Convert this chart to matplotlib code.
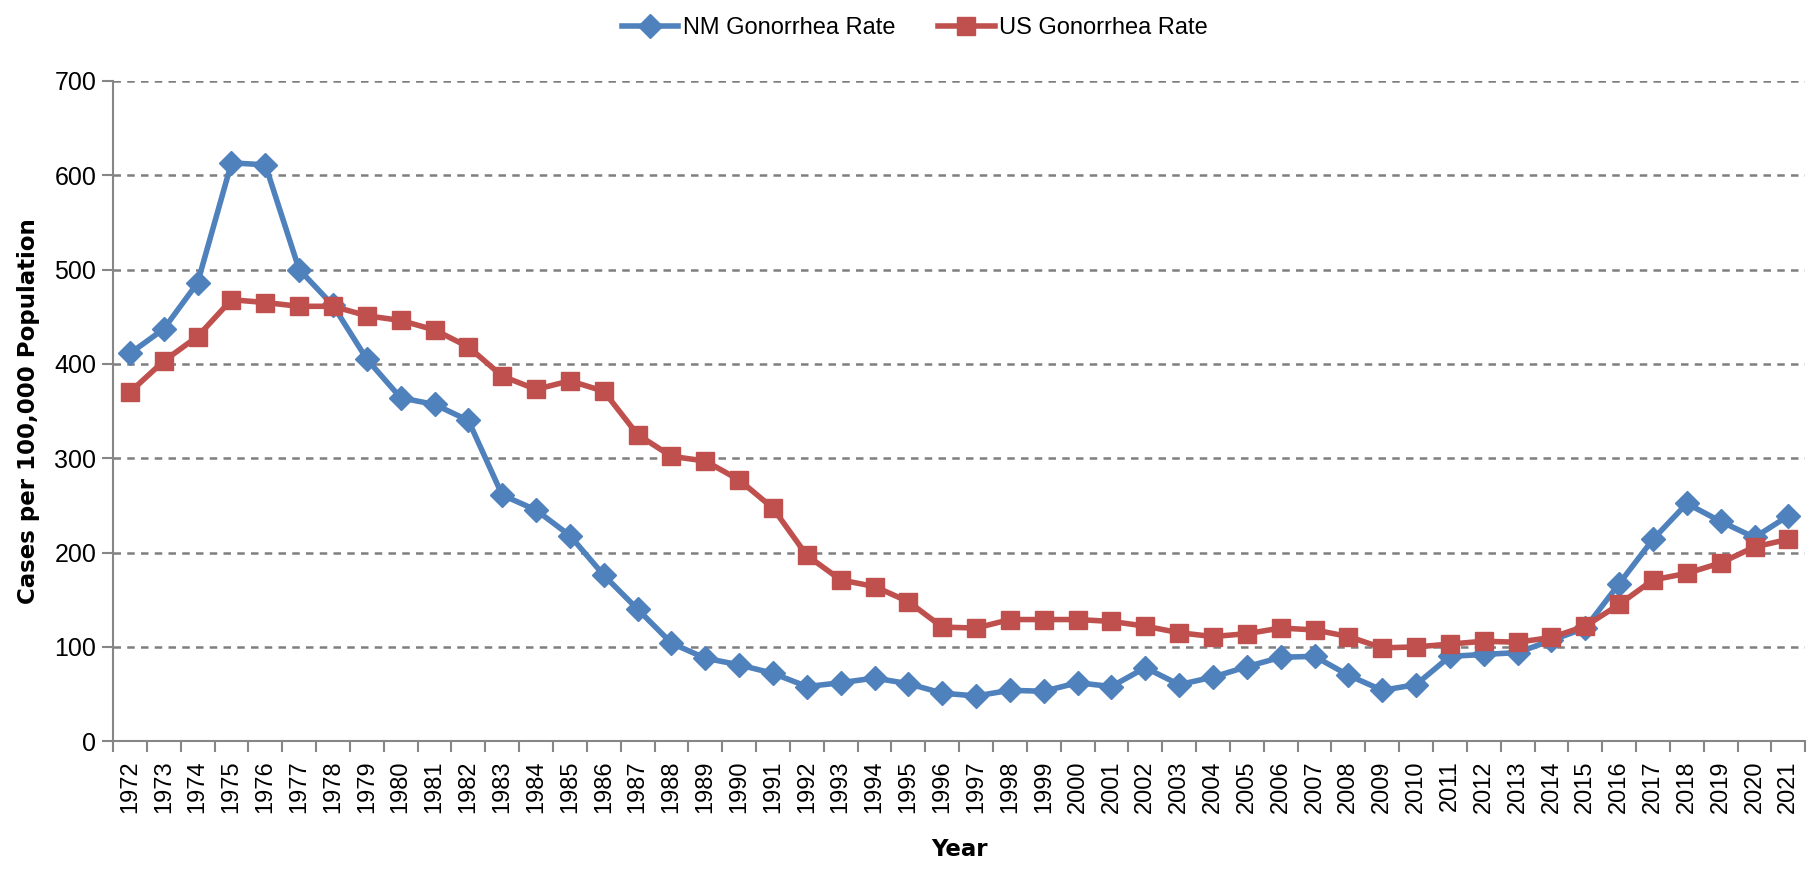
import matplotlib.pyplot as plt
import numpy as np

# years on the category axis
years = list(range(1972, 2022))

# NM gonorrhea rate (cases per 100,000)
nm_rate = [411, 437, 486, 613, 611, 500, 462, 405, 364, 357,
           340, 261, 245, 218, 176, 140, 104, 88, 81, 72,
           58, 62, 67, 61, 51, 48, 54, 53, 62, 58,
           78, 60, 68, 79, 89, 90, 70, 54, 60, 90,
           92, 94, 107, 120, 167, 214, 252, 233, 216, 239]

# US gonorrhea rate
us_rate = [370, 403, 429, 468, 465, 461, 461, 451, 446, 436,
           418, 387, 373, 382, 371, 325, 302, 297, 277, 247,
           197, 171, 164, 148, 121, 120, 129, 129, 129, 127,
           122, 115, 111, 114, 120, 118, 111, 99, 100, 103,
           106, 105, 110, 122, 145, 171, 178, 189, 206, 214]

y_ticks = [0, 100, 200, 300, 400, 500, 600, 700]

fig = plt.figure(figsize=(18.08, 8.69), dpi=100)
ax = fig.add_axes([0.0625, 0.147, 0.936, 0.76])

x = np.arange(len(years))
ax.plot(x, nm_rate, color='#4F81BD', lw=4, marker='D', ms=12,
        label='NM Gonorrhea Rate')
ax.plot(x, us_rate, color='#C0504D', lw=4, marker='s', ms=13,
        label='US Gonorrhea Rate')

ax.set_xlim(-0.5, len(years) - 0.5)
ax.set_ylim(0, 700)
ax.set_yticks(y_ticks)
ax.set_yticklabels([str(v) for v in y_ticks], fontsize=18, family='Liberation Sans')

# category ticks sit between the labels like in excel
ax.set_xticks(x)
ax.set_xticklabels([str(y) for y in years], rotation=90, fontsize=17,
                   family='Liberation Sans')
ax.set_xticks(np.arange(-0.5, len(years), 1), minor=True)
ax.tick_params(axis='x', which='major', length=0, pad=14)
ax.tick_params(axis='x', which='minor', length=8, color='#868686', width=1.5)
ax.tick_params(axis='y', length=8, color='#868686', width=1.5, pad=4)

ax.grid(axis='y', linestyle=(0, (3, 2.5)), color='#7f7f7f', lw=1.8)
ax.set_axisbelow(True)
for s in ['top', 'right']:
    ax.spines[s].set_visible(False)
ax.spines['left'].set_color('#868686')
ax.spines['bottom'].set_color('#868686')
ax.spines['left'].set_linewidth(1.5)
ax.spines['bottom'].set_linewidth(1.5)

ax.set_ylabel('Cases per 100,000 Population', fontsize=16.5, fontweight='bold', labelpad=10)
ax.set_xlabel('Year', fontsize=16.5, fontweight='bold', labelpad=18)

fig.legend(loc='upper center', bbox_to_anchor=(0.506, 1.005), ncol=2, frameon=False,
           prop={'family': 'Liberation Sans', 'size': 17},
           handlelength=2.4, handletextpad=0.2, columnspacing=1.8)

fig.savefig('out.png', dpi=100)
